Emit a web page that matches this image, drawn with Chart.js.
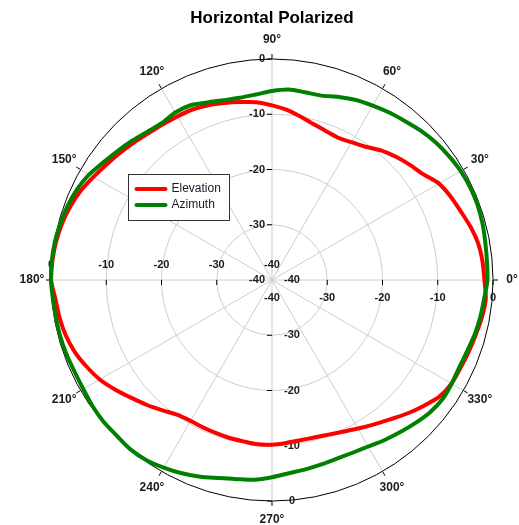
<!DOCTYPE html>
<html><head><meta charset="utf-8">
<script src="https://cdn.jsdelivr.net/npm/chart.js@4.4.1/dist/chart.umd.min.js"></script>
<style>html,body{margin:0;padding:0;background:#fff;}#wrap{width:519px;height:525px;}</style>
</head><body><div id="wrap"><canvas id="c" width="519" height="525"></canvas></div>
<script>
// Angles (degrees, counter-clockwise from 0° at right)
const angles = [0,5,10,15,20,25,30,35,40,45,50,55,60,65,70,75,80,85,90,95,100,105,110,115,120,125,130,135,140,145,150,155,160,165,170,175,180,185,190,195,200,205,210,215,220,225,230,235,240,245,250,255,260,265,270,275,280,285,290,295,300,305,310,315,320,325,330,335,340,345,350,355];
const elevation = [-1.55,-1.75,-2.1,-2.8,-3.65,-4.3,-5.1,-6.6,-7.5,-8.4,-9.35,-10.55,-11.2,-11.6,-11.35,-10.8,-10.0,-9.1,-8.4,-7.7,-7.3,-6.85,-6.35,-5.95,-5.8,-5.6,-5.3,-4.75,-4.15,-3.5,-2.7,-1.8,-1.15,-0.65,-0.3,-0.1,0,-0.65,-0.95,-1.35,-2.0,-2.95,-4.0,-5.4,-6.8,-8.0,-9.2,-10.2,-10.55,-10.55,-10.5,-10.4,-10.35,-10.15,-10.2,-10.4,-10.55,-10.5,-10.2,-9.7,-8.95,-8.05,-7.0,-5.7,-4.4,-3.1,-2.5,-2.35,-2.1,-1.8,-1.4,-1.15];
const azimuth = [-1.0,-0.95,-0.8,-0.55,-0.4,-0.4,-0.55,-0.9,-1.3,-1.85,-2.5,-3.0,-3.55,-4.05,-4.75,-5.45,-5.5,-5.4,-5.8,-6.3,-6.5,-6.3,-5.8,-5.1,-5.0,-5.3,-4.95,-4.3,-3.6,-2.8,-1.8,-1.1,-0.65,-0.35,-0.1,0,0,-0.2,-0.3,-0.35,-0.45,-0.6,-0.55,-0.3,-0.15,-0.2,-0.05,-0.25,-0.8,-1.4,-2.1,-2.9,-3.4,-3.7,-4.3,-4.9,-5.2,-5.45,-5.6,-5.5,-5.2,-4.6,-4.0,-3.35,-2.7,-2.35,-2.45,-2.6,-2.4,-2.0,-1.7,-1.45];
const seriesNames = ['Elevation','Azimuth'];
const seriesColors = ['#ff0000','#008000'];
const radialTicks = [-40,-30,-20,-10,0];
const labeledAngles = [0,30,60,90,120,150,180,210,240,270,300,330];
const titleText = 'Horizontal Polarized';

// Radar runs clockwise from startAngle; reorder so the angle runs counter-clockwise.
const order = angles.map((a, i) => i === 0 ? 0 : angles.length - i);
const labels = order.map(k => angles[k]);
const elevData = order.map(k => elevation[k]);
const azimData = order.map(k => azimuth[k]);

const FONT = '"Liberation Sans", Arial, sans-serif';
const TXT = '#1a1a1a';

const extras = {
  id: 'extras',
  beforeDatasetsDraw(chart) {
    const s = chart.scales.r, ctx = chart.ctx;
    const R = s.drawingArea, cx = s.xCenter, cy = s.yCenter;
    ctx.save();
    // ticks on outer circle
    ctx.strokeStyle = '#000'; ctx.lineWidth = 1;
    labels.forEach((a, i) => {
      if (!labeledAngles.includes(a)) return;
      const p1 = s.getPointPosition(i, R), p2 = s.getPointPosition(i, R + 5);
      ctx.beginPath(); ctx.moveTo(p1.x, p1.y); ctx.lineTo(p2.x, p2.y); ctx.stroke();
    });
    // ticks on the axes
    radialTicks.forEach(v => {
      if (v === s.min) return;
      const d = s.getDistanceFromCenterForValue(v);
      ctx.beginPath();
      ctx.moveTo(cx - d, cy); ctx.lineTo(cx - d, cy + 5);
      ctx.moveTo(cx + d, cy); ctx.lineTo(cx + d, cy + 5);
      ctx.moveTo(cx, cy - d); ctx.lineTo(cx - 5, cy - d);
      ctx.moveTo(cx, cy + d); ctx.lineTo(cx - 5, cy + d);
      ctx.stroke();
    });
    // angle labels
    ctx.fillStyle = TXT;
    ctx.font = 'bold 12px ' + FONT;
    ctx.textAlign = 'center'; ctx.textBaseline = 'middle';
    labels.forEach((a, i) => {
      if (!labeledAngles.includes(a)) return;
      const p = s.getPointPosition(i, R + 19);
      ctx.fillText(a + '°', p.x, p.y);
    });
    // radial value labels along the four axes
    ctx.font = 'bold 11px ' + FONT;
    radialTicks.forEach(v => {
      const d = s.getDistanceFromCenterForValue(v);
      const t = String(v);
      ctx.textAlign = 'right'; ctx.fillText(t, cx - 7, cy - d);
      ctx.textAlign = 'center'; ctx.fillText(t, cx + 20, cy + d);
      ctx.fillText(t, cx - d, cy - 15);
      ctx.fillText(t, cx + d, cy + 18);
    });
    ctx.restore();
  },
  afterDraw(chart) {
    const ctx = chart.ctx;
    const x = 128.5, y = 174.5, w = 101, h = 46;
    ctx.save();
    ctx.fillStyle = '#fff'; ctx.fillRect(x, y, w, h);
    ctx.strokeStyle = '#333'; ctx.lineWidth = 1; ctx.strokeRect(x, y, w, h);
    ctx.font = '12px ' + FONT; ctx.textBaseline = 'middle'; ctx.textAlign = 'left';
    chart.data.datasets.forEach((ds, i) => {
      const yy = y + 14.5 + i * 16;
      ctx.strokeStyle = ds.borderColor; ctx.lineWidth = 4; ctx.lineCap = 'round';
      ctx.beginPath(); ctx.moveTo(x + 8, yy); ctx.lineTo(x + 37, yy); ctx.stroke();
      ctx.fillStyle = '#1a1a2a';
      ctx.fillText(ds.label, x + 43, yy);
    });
    ctx.restore();
  }
};

new Chart(document.getElementById('c'), {
  type: 'radar',
  data: {
    labels: labels,
    datasets: [
      { label: seriesNames[0], data: elevData, borderColor: seriesColors[0], order: 1 },
      { label: seriesNames[1], data: azimData, borderColor: seriesColors[1], order: 0 }
    ]
  },
  options: {
    responsive: false,
    animation: false,
    devicePixelRatio: 1,
    layout: { padding: { left: 51, right: 26, top: 0, bottom: 24 } },
    elements: {
      line: { borderWidth: 4, fill: false, tension: 0.25, borderJoinStyle: 'round', borderCapStyle: 'round' },
      point: { radius: 0, hoverRadius: 0 }
    },
    scales: {
      r: {
        min: -40, max: 0,
        startAngle: 90,
        ticks: { display: false, stepSize: 10 },
        pointLabels: { display: false },
        grid: { circular: true, lineWidth: 1, color: c => (c.tick && c.tick.value === 0) ? '#000' : '#cccccc' },
        angleLines: {
          color: c => labeledAngles.includes(labels[c.index]) ? '#cccccc' : 'rgba(0,0,0,0)',
          lineWidth: c => labeledAngles.includes(labels[c.index]) ? 1 : 0
        }
      }
    },
    plugins: {
      legend: { display: false },
      tooltip: { enabled: false },
      title: {
        display: true, text: titleText, color: '#000',
        font: { family: FONT, size: 17, weight: 'bold' },
        padding: { top: 8, bottom: 30.6 }
      }
    }
  },
  plugins: [extras]
});
</script></body></html>
